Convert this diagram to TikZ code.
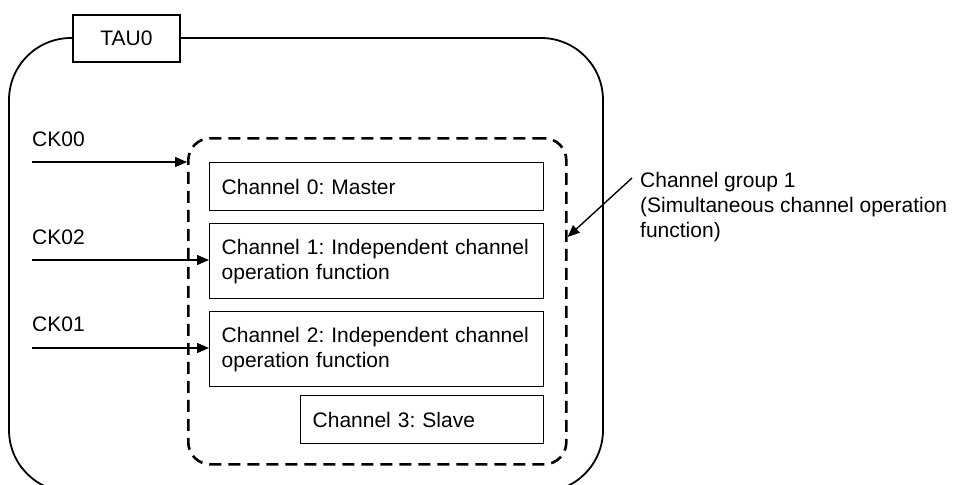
\documentclass[tikz,border=0pt]{standalone}
\usepackage{fontspec}
\setmainfont{Liberation Sans}
\usetikzlibrary{arrows.meta}
\frenchspacing
\begin{document}
\begin{tikzpicture}[x=1pt,y=-1pt,
  every node/.style={font=\fontsize{21}{25}\selectfont\frenchspacing},
  outerbox/.style={draw, line width=1.8pt, rounded corners=62pt},
  dashbox/.style={draw, line width=2.6pt, dash pattern=on 12pt off 7pt, rounded corners=22pt, inner sep=0pt},
  chbox/.style={draw, line width=1.4pt, anchor=north west, inner xsep=12pt, inner ysep=0pt, align=left, text width=310pt},
  tagbox/.style={draw, line width=1.4pt, fill=white, minimum width=107pt, minimum height=47pt, inner sep=0pt},
  lbl/.style={anchor=base west, inner sep=0pt},
  arr/.style={line width=1.4pt, -{Triangle[length=12pt,width=10pt]}}
]
\clip (0,0) rectangle (957,484);
\fill[white] (0,0) rectangle (957,484);
% outer TAU0 block
\draw[outerbox] (9,38) rectangle (603,492);
\node[tagbox] (tau) at (126.5,38.5) {TAU0};
% channel group
\node[dashbox, minimum width=378pt, minimum height=326pt, anchor=north west] (grp) at (187,137) {};
% channels
\node[chbox, minimum height=48pt] (c0) at (209,162) {Channel 0: Master};
\node[chbox, minimum height=75pt] (c1) at (209,223) {\mbox{Channel 1: Independent channel}\\\mbox{operation function}};
\node[chbox, minimum height=75pt] (c2) at (209,311) {\mbox{Channel 2: Independent channel}\\\mbox{operation function}};
\node[draw, line width=1.4pt, anchor=north west, inner xsep=12pt, inner ysep=0pt, minimum width=243pt, minimum height=48pt, text width=219pt, align=left] (c3) at (300,395) {Channel 3: Slave};
% clock labels
\node[lbl] (ck00) at (32,146) {CK00};
\node[lbl] (ck02) at (32,244) {CK02};
\node[lbl] (ck01) at (32,331) {CK01};
\coordinate (s00) at (32,162);
\coordinate (s02) at (32,260);
\coordinate (s01) at (32,348);
\draw[arr] (s00) -- (grp.west |- s00);
\draw[arr] (s02) -- (c1.west |- s02);
\draw[arr] (s01) -- (c2.west |- s01);
% annotation
\node[anchor=north west, inner sep=0pt, align=left] (ann) at (640,172) {Channel group 1\\(Simultaneous channel operation\\function)};
\coordinate (as) at (632,178);
\coordinate (ay) at (0,237);
\draw[arr] (as) -- (grp.east |- ay);
\end{tikzpicture}
\end{document}
